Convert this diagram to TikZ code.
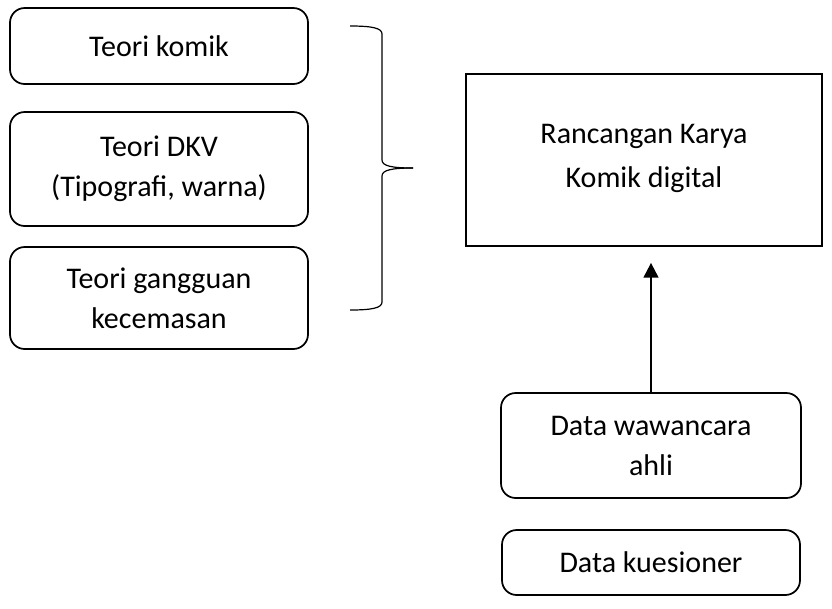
\documentclass[tikz,border=0pt]{standalone}
\usepackage{fontspec,tikz}
\usetikzlibrary{arrows.meta}
\setmainfont{Carlito}
\tikzset{
  teoribox/.style={draw=black,line width=1.3pt,rounded corners=11pt,align=center,
    minimum width=223.5pt,font=\fontsize{22.5}{30}\selectfont},
  karyabox/.style={draw=black,line width=1.3pt,align=center,
    minimum width=267pt,minimum height=129pt,font=\fontsize{22.5}{33.5}\selectfont},
}
\begin{document}
\begin{tikzpicture}[x=0.75pt,y=-0.75pt]
\useasboundingbox (0,0) rectangle (832,608);
% left column: theory boxes
\node[teoribox,minimum height=57pt] (komik) at (159,46) {Teori komik};
\node[teoribox,minimum height=85.5pt] (dkv) at (159,169) {Teori DKV\\(Tipografi, warna)};
\node[teoribox,minimum height=76.5pt] (cemas) at (159,298) {Teori gangguan\\kecemasan};
% brace joining the three theories
\draw[line width=0.9pt] (350,26) .. controls (372,26) and (382,28) .. (382,34) -- (382,160)
  .. controls (382,166) and (392,168) .. (413,168);
\draw[line width=0.9pt] (350,310) .. controls (372,310) and (382,308) .. (382,302) -- (382,176)
  .. controls (382,170) and (392,168) .. (413,168);
% right column: result and data
\node[karyabox,text depth=6pt] (karya) at (644,160) {Rancangan Karya\\Komik digital};
\node[teoribox,minimum width=225pt,minimum height=78.75pt] (wawancara) at (651,445.5) {Data wawancara\\ahli};
\node[teoribox,minimum height=48.75pt] (kuesioner) at (651,562.5) {Data kuesioner};
\draw[-{Triangle[length=11pt,width=11pt]},line width=1.5pt,shorten >=12pt]
  (wawancara.north) -- (wawancara.north |- karya.south);
\end{tikzpicture}
\end{document}
